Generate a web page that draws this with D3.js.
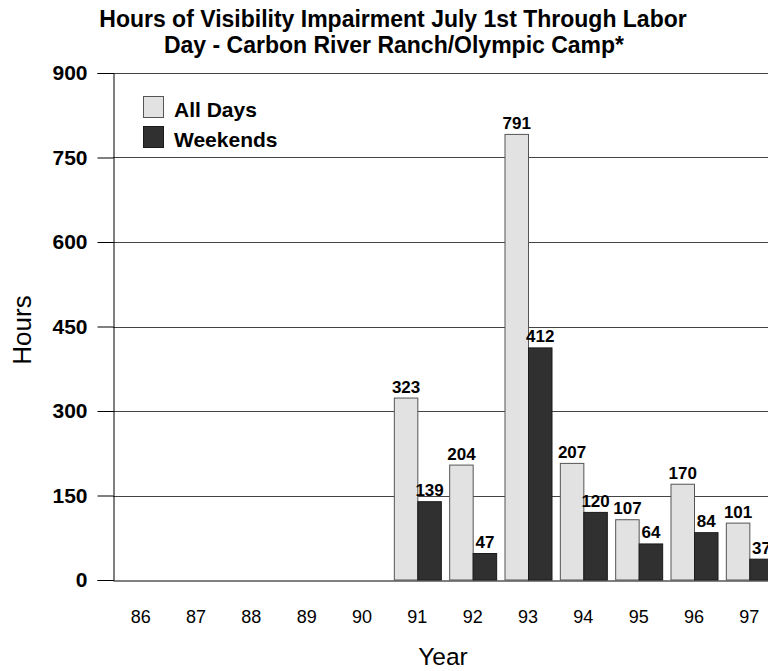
<!DOCTYPE html>
<html>
<head>
<meta charset="utf-8">
<script src="https://cdn.jsdelivr.net/npm/d3@7"></script>
<style>
  html, body { margin: 0; padding: 0; background: #fff; overflow: hidden; }
  svg { display: block; font-family: "Liberation Sans", Arial, sans-serif; }
</style>
</head>
<body>
<svg id="chart" width="768" height="671"></svg>
<script>
// Hours of visibility impairment per summer season
const years = ["86", "87", "88", "89", "90", "91", "92", "93", "94", "95", "96", "97"];
const allDays = [null, null, null, null, null, 323, 204, 791, 207, 107, 170, 101];
const weekends = [null, null, null, null, null, 139, 47, 412, 120, 64, 84, 37];
const yTicks = [0, 150, 300, 450, 600, 750, 900];
const seriesNames = ["All Days", "Weekends"];
const seriesColors = ["#e2e2e2", "#303030"];
const seriesStrokes = ["#555", "#1a1a1a"];

const svg = d3.select("#chart");
const margin = { left: 113, top: 73, bottom: 580 };
const plotRight = 777;

const x = d3.scaleBand().domain(years).range([margin.left, plotRight]).padding(0);
const y = d3.scaleLinear().domain([0, 900]).range([margin.bottom, margin.top]);
const barW = 23.5;

// Title
const title = svg.append("text")
  .attr("text-anchor", "middle")
  .attr("font-size", 23).attr("font-weight", "bold").attr("fill", "#000");
title.append("tspan").attr("x", 393).attr("y", 27).text("Hours of Visibility Impairment July 1st Through Labor");
title.append("tspan").attr("x", 394).attr("y", 53).text("Day - Carbon River Ranch/Olympic Camp*");

// Gridlines
svg.append("g")
  .selectAll("line")
  .data(yTicks.filter(d => d > 0))
  .join("line")
  .attr("x1", margin.left).attr("x2", plotRight)
  .attr("y1", d => Math.round(y(d)) + 0.5).attr("y2", d => Math.round(y(d)) + 0.5)
  .attr("stroke", "#444").attr("stroke-width", 1);

// Y axis
const yAxis = svg.append("g")
  .attr("transform", `translate(${margin.left + 0.5},0)`)
  .call(d3.axisLeft(y).tickValues(yTicks).tickSize(16).tickPadding(10).tickFormat(d3.format("d")));
yAxis.select(".domain").attr("stroke", "#000");
yAxis.selectAll(".tick line").attr("stroke", "#000");
yAxis.selectAll("text").attr("font-size", 21).attr("font-weight", "bold")
  .attr("font-family", "Liberation Sans, Arial, sans-serif").attr("fill", "#000");

// X axis
const xAxis = svg.append("g")
  .attr("transform", `translate(0,${margin.bottom + 0.5})`)
  .call(d3.axisBottom(x).tickSize(0).tickPadding(30));
xAxis.select(".domain").attr("stroke", "#000");
xAxis.selectAll("text").attr("font-size", 18)
  .attr("font-family", "Liberation Sans, Arial, sans-serif").attr("fill", "#000");

// Axis titles
svg.append("text")
  .attr("transform", "translate(31,330) rotate(-90)")
  .attr("text-anchor", "middle").attr("font-size", 26).attr("fill", "#000")
  .text("Hours");
svg.append("text")
  .attr("x", 443).attr("y", 665).attr("text-anchor", "middle")
  .attr("font-size", 24.5).attr("fill", "#000")
  .text("Year");

// Bars
const series = [allDays, weekends];
series.forEach((vals, si) => {
  const data = years.map((yr, i) => ({ yr, v: vals[i] })).filter(d => d.v != null);
  const cx = d => x(d.yr) + x.bandwidth() / 2 + (si === 0 ? -barW : 0);
  svg.append("g")
    .selectAll("rect")
    .data(data)
    .join("rect")
    .attr("x", d => cx(d) + 0.5)
    .attr("y", d => y(d.v))
    .attr("width", barW)
    .attr("height", d => y(0) - y(d.v))
    .attr("fill", seriesColors[si])
    .attr("stroke", seriesStrokes[si]).attr("stroke-width", 1);
  svg.append("g")
    .selectAll("text")
    .data(data)
    .join("text")
    .attr("x", d => cx(d) + barW / 2 + 0.5)
    .attr("y", d => y(d.v) - 5.5)
    .attr("text-anchor", "middle")
    .attr("font-size", 17).attr("font-weight", "bold").attr("fill", "#000")
    .text(d => d.v);
});

// Legend
const legend = svg.append("g");
seriesNames.forEach((name, i) => {
  const ly = 96 + i * 30;
  legend.append("rect")
    .attr("x", 143.5).attr("y", ly + 0.5).attr("width", 20).attr("height", 21)
    .attr("fill", seriesColors[i]).attr("stroke", seriesStrokes[i]);
  legend.append("text")
    .attr("x", 174).attr("y", ly + 20.5)
    .attr("font-size", 21).attr("font-weight", "bold").attr("fill", "#000")
    .text(name);
});
</script>
</body>
</html>
